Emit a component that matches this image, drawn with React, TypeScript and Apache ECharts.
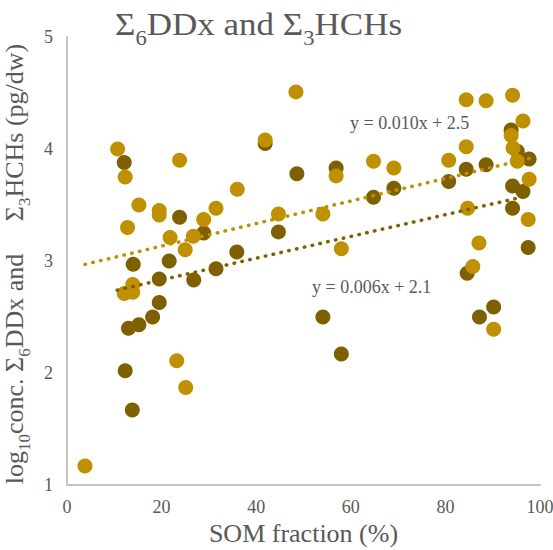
import React, { useEffect, useRef } from "react";
import * as echarts from "echarts";

// Gold series (upper trend, y = 0.010x + 2.5)
const goldX = [3.8, 10.7, 12.3, 23.8, 41.9, 48.4, 15.2, 19.5, 19.5, 28.9, 31.5, 36.0, 44.7, 12.8, 21.8, 26.7, 25.0, 13.9, 12.1, 13.9, 23.2, 25.1, 84.4, 88.6, 94.2, 96.4, 93.9, 94.3, 84.4, 64.8, 69.1, 80.7, 56.9, 95.2, 97.7, 54.1, 84.7, 97.5, 58.0, 87.1, 85.8, 90.2];
const goldY = [1.17, 4.0, 3.75, 3.9, 4.08, 4.51, 3.5, 3.45, 3.41, 3.37, 3.47, 3.64, 3.42, 3.3, 3.21, 3.22, 3.1, 2.79, 2.71, 2.72, 2.11, 1.87, 4.44, 4.43, 4.48, 4.25, 4.12, 4.01, 4.02, 3.89, 3.83, 3.9, 3.76, 3.89, 3.73, 3.42, 3.47, 3.37, 3.11, 3.16, 2.95, 2.39];

// Dark series (lower trend, y = 0.006x + 2.1)
const darkX = [12.1, 41.9, 48.6, 23.8, 44.7, 28.9, 14.0, 21.6, 35.9, 19.5, 31.5, 26.8, 19.5, 18.1, 15.2, 13.0, 12.3, 13.8, 56.9, 64.8, 69.1, 80.7, 84.4, 88.6, 93.9, 95.2, 97.7, 94.2, 96.4, 94.2, 54.1, 58.0, 97.5, 84.6, 90.2, 87.2];
const darkY = [3.88, 4.05, 3.78, 3.39, 3.26, 3.25, 2.97, 3.0, 3.08, 2.84, 2.93, 2.83, 2.63, 2.5, 2.43, 2.4, 2.02, 1.67, 3.83, 3.57, 3.65, 3.71, 3.82, 3.86, 4.17, 3.98, 3.91, 3.67, 3.62, 3.47, 2.5, 2.17, 3.12, 2.89, 2.59, 2.5];

// Trendline endpoints
const goldTrendX = [3.8, 97.7];
const goldTrendY = [2.97, 3.915];
const darkTrendX = [10.6, 97.7];
const darkTrendY = [2.74, 3.585];

const titleText = "{m|Σ}{s|6}{m|DDx and Σ}{s|3}{m|HCHs}";
const goldEq = "y = 0.010x + 2.5";
const darkEq = "y = 0.006x + 2.1";

const xTicks = { min: 0, max: 100, interval: 20 };
const yTicks = { min: 1, max: 5, interval: 1 };

const GOLD = "#BF9000";
const DARK = "#7F6000";
const TEXT = "#595959";
const FONT = "Liberation Serif";

const zip = (xs: number[], ys: number[]) => xs.map((x, i) => [x, ys[i]]);

export default function App() {
  const ref = useRef<HTMLDivElement>(null);
  useEffect(() => {
    if (!ref.current) return;
    document.body.style.margin = "0";
    const chart = echarts.init(ref.current, null, { renderer: "svg" });
    const trendStyle = (c: string) => ({
      color: c,
      width: 3.5,
      type: [0.5, 7.5] as any,
      cap: "round" as any,
    });
    const tickLabel = {
      color: TEXT,
      fontSize: 18,
      fontFamily: FONT,
      fontWeight: "normal",
    };
    chart.setOption({
      animation: false,
      textStyle: { fontFamily: FONT, fontWeight: "normal" },
      grid: {
        left: 67,
        right: 13,
        top: 37,
        bottom: 65,
        containLabel: false,
        outerBoundsMode: "none",
      },
      xAxis: {
        type: "value",
        min: xTicks.min,
        max: xTicks.max,
        interval: xTicks.interval,
        splitLine: { show: false },
        axisTick: { show: false },
        axisLine: { show: true, lineStyle: { color: "#C6C6C6", width: 2 } },
        axisLabel: { ...tickLabel, margin: 13, formatter: "{t|{value}}", rich: { t: tickLabel } },
        name: "{m|SOM fraction (%)}",
        nameLocation: "middle",
        nameGap: 30,
        nameTextStyle: {
          color: TEXT,
          fontSize: 26,
          fontFamily: FONT,
          fontWeight: "normal",
          rich: { m: { fontFamily: FONT, fontWeight: "normal", fontSize: 26, lineHeight: 30, color: TEXT } },
        },
      },
      yAxis: {
        type: "value",
        min: yTicks.min,
        max: yTicks.max,
        interval: yTicks.interval,
        splitLine: { show: false },
        axisTick: { show: false },
        axisLine: { show: true, onZero: false, lineStyle: { color: "#C6C6C6", width: 2 } },
        axisLabel: { ...tickLabel, margin: 14, formatter: "{t|{value}}", rich: { t: tickLabel } },
        name: "{m|log}{s|10}{m|conc. Σ}{s|6}{m|DDx and     Σ}{s|3}{m|HCHs (pg/dw)}",
        nameLocation: "middle",
        nameRotate: 90,
        nameGap: 26,
        nameTextStyle: {
          fontFamily: FONT,
          fontWeight: "normal",
          fontSize: 26,
          color: TEXT,
          padding: [0, 6, 0, 0],
          rich: {
            m: { fontFamily: FONT, fontWeight: "normal", fontSize: 26, lineHeight: 30, color: TEXT },
            s: { fontFamily: FONT, fontWeight: "normal", fontSize: 17, lineHeight: 17, color: TEXT, padding: [21, 0, 0, 0] },
          },
        },
      },
      graphic: [
        {
          type: "text",
          x: 115,
          y: 6,
          scaleX: 1.13,
          z: 100,
          style: {
            text: titleText,
            fill: TEXT,
            fontFamily: FONT,
            fontSize: 31,
            rich: {
              m: { fontFamily: FONT, fontSize: 31, lineHeight: 37, fill: TEXT, color: TEXT },
              s: { fontFamily: FONT, fontSize: 20, lineHeight: 20, fill: TEXT, color: TEXT, padding: [27, 0, 0, 0] },
            },
          },
        },
        {
          type: "text",
          x: 350,
          y: 123,
          style: { text: goldEq, fontSize: 18, fontFamily: FONT, fill: TEXT, verticalAlign: "middle" },
          z: 100,
        },
        {
          type: "text",
          x: 312,
          y: 287,
          style: { text: darkEq, fontSize: 18, fontFamily: FONT, fill: TEXT, verticalAlign: "middle" },
          z: 100,
        },
      ],
      series: [
        {
          type: "scatter",
          data: zip(darkX, darkY),
          symbolSize: 15,
          itemStyle: { color: DARK, opacity: 1 },
          z: 2,
        },
        {
          type: "scatter",
          data: zip(goldX, goldY),
          symbolSize: 15,
          itemStyle: { color: GOLD, opacity: 1 },
          z: 3,
        },
        {
          type: "line",
          data: zip(goldTrendX, goldTrendY),
          showSymbol: false,
          symbol: "none",
          lineStyle: trendStyle(GOLD),
          z: 4,
        },
        {
          type: "line",
          data: zip(darkTrendX, darkTrendY),
          showSymbol: false,
          symbol: "none",
          lineStyle: trendStyle(DARK),
          z: 4,
        },
      ],
    });
    return () => chart.dispose();
  }, []);
  return <div ref={ref} style={{ width: 553, height: 550 }} />;
}
